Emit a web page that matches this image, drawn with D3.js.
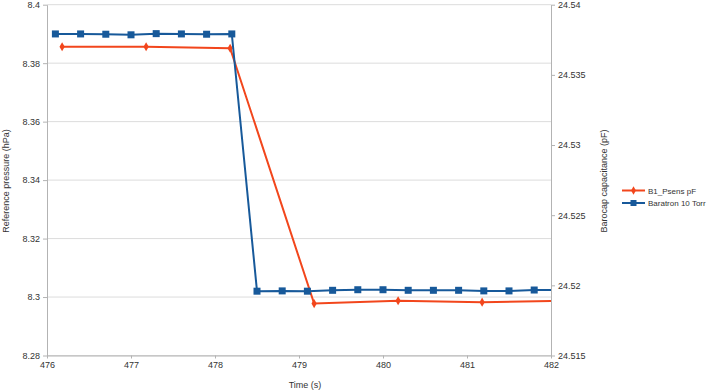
<!DOCTYPE html>
<html>
<head>
<meta charset="utf-8">
<script src="https://cdn.jsdelivr.net/npm/d3@7"></script>
<style>
  body { margin: 0; background: #fff; }
  text { font-family: "Liberation Sans", Arial, sans-serif; fill: #333; }
</style>
</head>
<body>
<div id="chart"></div>
<script>
// Baratron 10 Torr (left axis, hPa)
const baratronTime = [476.1, 476.4, 476.7, 477.0, 477.3, 477.6, 477.9, 478.2,
                      478.5, 478.8, 479.1, 479.4, 479.7, 480.0, 480.3, 480.6, 480.9, 481.2, 481.5, 481.8, 482.1];
const baratronValue = [8.3900, 8.3900, 8.3899, 8.3897, 8.3901, 8.3900, 8.3899, 8.3900,
                       8.3020, 8.3021, 8.3020, 8.3023, 8.3025, 8.3025, 8.3023, 8.3023, 8.3023, 8.3021, 8.3021, 8.3024, 8.3024];

// B1_Psens pF (right axis, pF)
const psensTime = [476.18, 477.18, 478.18, 479.18, 480.18, 481.18, 482.18];
const psensValue = [24.5370, 24.5370, 24.5369, 24.5187, 24.5189, 24.5188, 24.5189];

const xTicks = [476, 477, 478, 479, 480, 481, 482];
const leftTicks = [8.28, 8.3, 8.32, 8.34, 8.36, 8.38, 8.4];
const rightTicks = [24.515, 24.52, 24.525, 24.53, 24.535, 24.54];

const W = 709, H = 392;
const margin = { top: 4.7, right: 158, bottom: 36.5, left: 47 };
const width = W - margin.left - margin.right,
      height = H - margin.top - margin.bottom;

const svg = d3.select("#chart").append("svg")
    .attr("width", W).attr("height", H);

const g = svg.append("g")
    .attr("transform", "translate(" + margin.left + "," + margin.top + ")");

const x = d3.scaleLinear().domain([476, 482]).range([0, width]);
const yL = d3.scaleLinear().domain([8.28, 8.4]).range([height, 0]);
const yR = d3.scaleLinear().domain([24.515, 24.54]).range([height, 0]);

// grid
g.append("g").selectAll("line").data(leftTicks).enter().append("line")
    .attr("x1", 0).attr("x2", width)
    .attr("y1", d => yL(d)).attr("y2", d => yL(d))
    .attr("stroke", "#dcdcdc").attr("stroke-width", 1);

// axes
const axisStyle = sel => {
    sel.select(".domain").attr("stroke", "#b3b3b3");
    sel.selectAll(".tick line").attr("stroke", "#b3b3b3");
    sel.selectAll(".tick text").style("font-size", "9px").attr("fill", "#333");
};

g.append("g").attr("transform", "translate(0," + height + ")")
    .call(d3.axisBottom(x).tickValues(xTicks).tickFormat(d3.format("d")).tickSize(3).tickSizeOuter(0))
    .call(axisStyle);

g.append("g")
    .call(d3.axisLeft(yL).tickValues(leftTicks).tickFormat(d => String(+d.toFixed(2))).tickSize(4).tickSizeOuter(0))
    .call(axisStyle);

g.append("g").attr("transform", "translate(" + width + ",0)")
    .call(d3.axisRight(yR).tickValues(rightTicks).tickFormat(d => String(+d.toFixed(3))).tickSize(4).tickSizeOuter(0))
    .call(axisStyle);

// axis titles
svg.append("text").attr("x", 305).attr("y", 388).attr("text-anchor", "middle")
    .style("font-size", "9px").text("Time (s)");
svg.append("text").attr("transform", "translate(9,181) rotate(-90)").attr("text-anchor", "middle")
    .style("font-size", "9px").text("Reference pressure (hPa)");
svg.append("text").attr("transform", "translate(607,181) rotate(-90)").attr("text-anchor", "middle")
    .style("font-size", "9px").text("Barocap capacitance (pF)");

// clip
svg.append("defs").append("clipPath").attr("id", "plot")
    .append("rect").attr("width", width).attr("height", height + 1);
const plot = g.append("g").attr("clip-path", "url(#plot)");

const red = "#f2461c", blue = "#17599a";

const psens = psensTime.map((t, i) => ({ t: t, v: psensValue[i] }));
const baratron = baratronTime.map((t, i) => ({ t: t, v: baratronValue[i] }));

plot.append("path").datum(psens)
    .attr("fill", "none").attr("stroke", red).attr("stroke-width", 2)
    .attr("d", d3.line().x(d => x(d.t)).y(d => yR(d.v)));
plot.selectAll(".pm").data(psens).enter().append("path")
    .attr("class", "pm")
    .attr("transform", d => "translate(" + x(d.t) + "," + yR(d.v) + ")")
    .attr("d", d3.symbol().type(d3.symbolDiamond).size(24))
    .attr("fill", red);

plot.append("path").datum(baratron)
    .attr("fill", "none").attr("stroke", blue).attr("stroke-width", 2)
    .attr("d", d3.line().x(d => x(d.t)).y(d => yL(d.v)));
plot.selectAll(".bm").data(baratron).enter().append("rect")
    .attr("class", "bm")
    .attr("x", d => x(d.t) - 3.5).attr("y", d => yL(d.v) - 3.5)
    .attr("width", 7).attr("height", 7)
    .attr("fill", blue);

// legend
const legend = svg.append("g").attr("transform", "translate(622,190.5)");
const items = [
    { name: "B1_Psens pF", color: red, shape: "diamond" },
    { name: "Baratron 10 Torr", color: blue, shape: "square" }
];
items.forEach((it, i) => {
    const row = legend.append("g").attr("transform", "translate(0," + (i * 12.5) + ")");
    row.append("line").attr("x1", 0).attr("x2", 23).attr("stroke", it.color).attr("stroke-width", 2);
    if (it.shape === "square") {
        row.append("rect").attr("x", 8.5).attr("y", -3).attr("width", 6).attr("height", 6).attr("fill", it.color);
    } else {
        row.append("path").attr("transform", "translate(11.5,0)")
            .attr("d", d3.symbol().type(d3.symbolDiamond).size(20)).attr("fill", it.color);
    }
    row.append("text").attr("x", 26).attr("y", 3).style("font-size", "8px").text(it.name);
});
</script>
</body>
</html>
